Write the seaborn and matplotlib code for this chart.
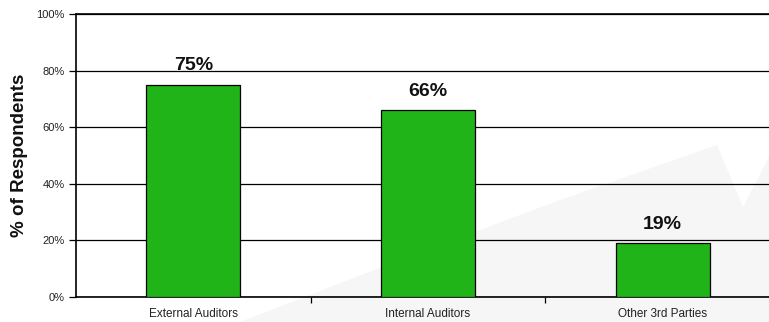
import matplotlib
matplotlib.use("Agg")
import matplotlib.pyplot as plt
from matplotlib.patches import Polygon
from matplotlib.ticker import FixedLocator, PercentFormatter
import pandas as pd
import seaborn as sns

categories = ["External Auditors", "Internal Auditors", "Other 3rd Parties"]
values = [75, 66, 19]
y_ticks = [0, 20, 40, 60, 80, 100]

sns.set_theme(style="white")
plt.rcParams["font.family"] = ["Liberation Sans", "DejaVu Sans"]

W, H = 769, 322
fig = plt.figure(figsize=(W / 100, H / 100), dpi=100)
fig.patch.set_facecolor("white")

# faint decorative backdrop in the lower right, kept behind the axes
bg = Polygon(
    [(240 / W, 0), (400 / W, 62 / H), (560 / W, 122 / H), (717 / W, 177 / H),
     (743 / W, 115 / H), (769 / W, 165 / H), (1, 0)],
    closed=True, transform=fig.transFigure, facecolor="#f6f6f6",
    edgecolor="none", zorder=-10)
fig.patches.append(bg)

left, right = 76, 780
bottom_px, top_px = 297, 14
ax = fig.add_axes([left / W, (H - bottom_px) / H, (right - left) / W,
                   (bottom_px - top_px) / H])
ax.set_zorder(5)
ax.set_facecolor("none")

df = pd.DataFrame({"category": categories, "value": values})
sns.barplot(data=df, x="category", y="value", ax=ax, color="#20b418",
            saturation=1, width=0.4, edgecolor="black", linewidth=0.9,
            zorder=3)

ax.set_xlim(-0.5, 2.5)
ax.set_ylim(0, 100)
ax.yaxis.set_major_locator(FixedLocator(y_ticks))
ax.yaxis.set_major_formatter(PercentFormatter(decimals=0))
ax.grid(axis="y", color="black", linewidth=0.9, zorder=1)
ax.grid(axis="x", visible=False)

for s in ["left", "bottom", "top"]:
    ax.spines[s].set_visible(True)
    ax.spines[s].set_color("black")
    ax.spines[s].set_linewidth(1.2)
ax.spines["right"].set_visible(False)

ax.tick_params(axis="y", which="major", left=True, length=5, width=0.9,
               color="black", labelsize=8, labelcolor="#222222", pad=3)
ax.tick_params(axis="x", which="major", bottom=False, labelsize=8.5,
               labelcolor="#222222", pad=9)
ax.xaxis.set_minor_locator(FixedLocator([0.5, 1.5]))
ax.tick_params(axis="x", which="minor", bottom=True, length=4, width=0.9,
               color="black")
# major x ticks are hidden, so place the labels directly below the axis
for lbl in ax.get_xticklabels():
    lbl.set_y(0.035)

ax.set_xlabel("")
ax.set_ylabel("% of Respondents", fontsize=13.5, fontweight="bold",
              color="#111111", labelpad=6)

for i, v in enumerate(values):
    ax.annotate(f"{v}%", xy=(i, v), xytext=(0, 7.5), textcoords="offset points",
                ha="center", va="bottom", fontsize=14, fontweight="bold",
                color="#111111", zorder=5)

fig.savefig("out.png", dpi=100, facecolor="white")
